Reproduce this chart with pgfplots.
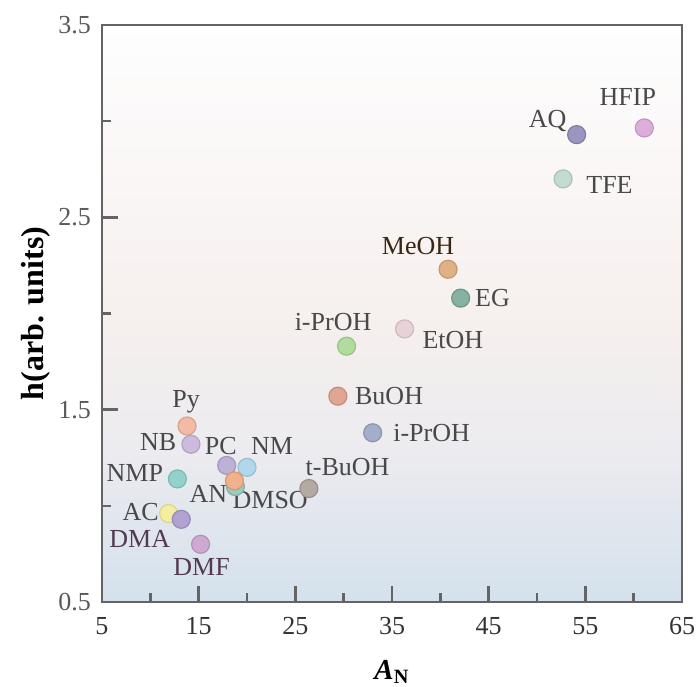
\documentclass[border=0pt]{standalone}
\usepackage{fontspec}
\setmainfont{Liberation Serif}
\usepackage{pgfplots}
\pgfplotsset{compat=1.18}

\definecolor{axgray}{RGB}{100,100,100}
\definecolor{labgray}{RGB}{72,72,72}
\definecolor{bgtop}{RGB}{254,254,254}
\definecolor{bgup}{RGB}{250,247,246}
\definecolor{bgpink}{RGB}{246,240,238}
\definecolor{bgmid}{RGB}{236,235,239}
\definecolor{bgblue}{RGB}{212,225,236}
\pgfdeclareverticalshading{bgshade}{100bp}{color(0bp)=(bgblue); color(25bp)=(bgblue);
  color(38bp)=(bgmid); color(50bp)=(bgpink); color(63bp)=(bgup); color(75bp)=(bgtop); color(100bp)=(bgtop)}
% point colours
\definecolor{cHFIP}{RGB}{216,166,214}
\definecolor{cAQ}{RGB}{143,138,184}
\definecolor{cTFE}{RGB}{188,216,204}
\definecolor{cMeOH}{RGB}{220,168,120}
\definecolor{cEG}{RGB}{122,168,152}
\definecolor{cEtOH}{RGB}{230,205,212}
\definecolor{cIPrG}{RGB}{168,216,144}
\definecolor{cBuOH}{RGB}{220,156,136}
\definecolor{cIPrB}{RGB}{154,164,196}
\definecolor{cTBuOH}{RGB}{172,160,152}
\definecolor{cPy}{RGB}{240,180,156}
\definecolor{cNB}{RGB}{200,180,216}
\definecolor{cPC}{RGB}{184,168,208}
\definecolor{cNM}{RGB}{168,212,232}
\definecolor{cAN}{RGB}{240,168,128}
\definecolor{cDMSO}{RGB}{144,196,184}
\definecolor{cNMP}{RGB}{136,204,200}
\definecolor{cAC}{RGB}{244,236,152}
\definecolor{cDMA}{RGB}{168,152,204}
\definecolor{cDMF}{RGB}{200,160,204}

\tikzset{lab/.style={font=\fontsize{13}{15}\selectfont, text=labgray, inner sep=0pt}}

\newcommand{\solv}[1]{\addplot[only marks, mark=*, mark size=4.5pt,
  mark options={fill=#1!90!white, draw=#1!90!black, line width=0.6pt}]}

\begin{document}
\begin{tikzpicture}
\begin{axis}[
  scale only axis, width=290pt, height=288.5pt,
  xmin=5, xmax=65, ymin=0.5, ymax=3.5,
  xtick={5,15,...,65}, ytick={0.5,1.5,2.5,3.5},
  minor x tick num=1, minor y tick num=1,
  xtick pos=bottom, ytick pos=left, tick align=inside,
  major tick length=8pt, minor tick length=4.5pt,
  axis line style={axgray, line width=1.4pt},
  every tick/.style={axgray, line width=1.2pt},
  /pgf/number format/assume math mode=true,
  /pgf/number format/fixed, /pgf/number format/precision=1,
  tick label style={font=\fontsize{13}{15}\selectfont},
  xticklabel style={text=black!80, yshift=-4pt},
  yticklabel style={text=black!65, xshift=-2pt,
    /pgf/number format/fixed zerofill},
  xlabel={\textbf{\textit{A}}\textsubscript{\textbf{N}}},
  ylabel={\textbf{h(arb. units)}},
  xlabel style={font=\fontsize{14.5}{16}\selectfont, yshift=-6pt},
  ylabel style={font=\fontsize{16}{18}\selectfont, yshift=-3pt},
  axis background/.style={shading=bgshade},
  clip=false,
]
\solv{cHFIP}  coordinates {(61.1,2.965)};
\solv{cAQ}    coordinates {(54.1,2.93)};
\solv{cTFE}   coordinates {(52.7,2.70)};
\solv{cMeOH}  coordinates {(40.8,2.23)};
\solv{cEG}    coordinates {(42.1,2.08)};
\solv{cEtOH}  coordinates {(36.3,1.92)};
\solv{cIPrG}  coordinates {(30.3,1.83)};
\solv{cBuOH}  coordinates {(29.4,1.57)};
\solv{cIPrB}  coordinates {(33.0,1.38)};
\solv{cTBuOH} coordinates {(26.4,1.09)};
\solv{cPy}    coordinates {(13.8,1.415)};
\solv{cNB}    coordinates {(14.2,1.32)};
\solv{cNMP}   coordinates {(12.8,1.14)};
\solv{cPC}    coordinates {(17.9,1.21)};
\solv{cNM}    coordinates {(20.0,1.20)};
\solv{cDMSO}  coordinates {(18.8,1.10)};
\solv{cAN}    coordinates {(18.7,1.13)};
\solv{cAC}    coordinates {(11.9,0.96)};
\solv{cDMA}   coordinates {(13.2,0.93)};
\solv{cDMF}   coordinates {(15.2,0.80)};

\node[lab] at (59.4,3.126) {HFIP};
\node[lab] at (51.1,3.00) {AQ};
\node[lab] at (57.5,2.67) {TFE};
\node[lab, text=black!70!brown] at (37.7,2.35) {MeOH};
\node[lab] at (45.4,2.08) {EG};
\node[lab] at (41.3,1.86) {EtOH};
\node[lab] at (28.9,1.955) {i-PrOH};
\node[lab] at (34.7,1.57) {BuOH};
\node[lab] at (39.1,1.38) {i-PrOH};
\node[lab] at (30.4,1.20) {t-BuOH};
\node[lab] at (13.7,1.54) {Py};
\node[lab] at (10.8,1.33) {NB};
\node[lab] at (17.3,1.31) {PC};
\node[lab] at (22.6,1.31) {NM};
\node[lab] at (8.4,1.17) {NMP};
\node[lab] at (16.0,1.06) {AN};
\node[lab] at (22.4,1.03) {DMSO};
\node[lab] at (9.0,0.97) {AC};
\node[lab, text=violet!20!labgray] at (8.9,0.83) {DMA};
\node[lab, text=violet!20!labgray] at (15.3,0.68) {DMF};
\end{axis}
\pgfresetboundingbox
\path (-51pt,-42pt) rectangle (298.5pt,301pt);
\end{tikzpicture}
\end{document}
